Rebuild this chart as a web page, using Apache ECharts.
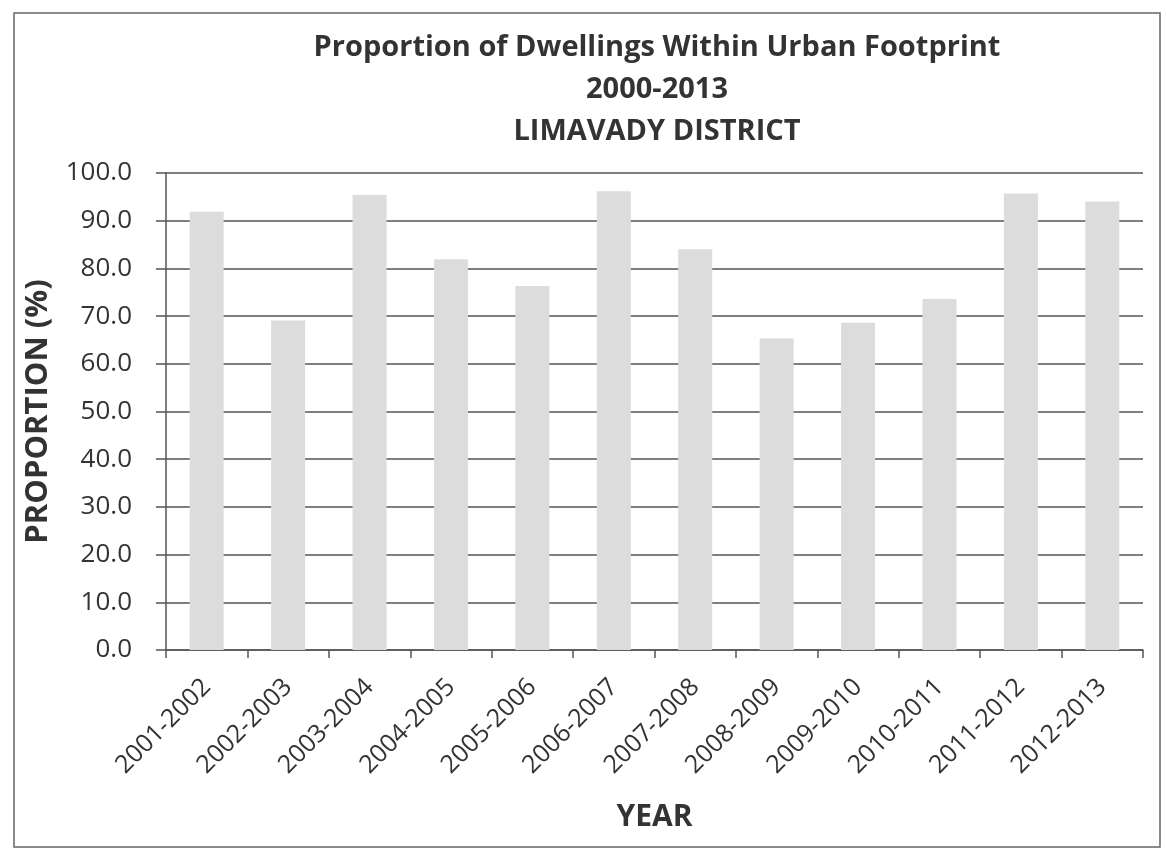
<!DOCTYPE html>
<html>
<head>
<meta charset="utf-8">
<script src="https://cdn.jsdelivr.net/npm/echarts@6/dist/echarts.min.js"></script>
<style>html,body{margin:0;padding:0;background:#fff;}#chart{width:1166px;height:849px;}</style>
</head>
<body>
<div id="chart"></div>
<script>
const categories = ['2001-2002','2002-2003','2003-2004','2004-2005','2005-2006','2006-2007','2007-2008','2008-2009','2009-2010','2010-2011','2011-2012','2012-2013'];
const proportion = [91.9, 69.1, 95.4, 81.9, 76.3, 96.2, 84.0, 65.3, 68.6, 73.6, 95.7, 94.0];
const titleLines = ['Proportion of Dwellings Within Urban Footprint', '2000-2013', 'LIMAVADY DISTRICT'];

const chart = echarts.init(document.getElementById('chart'));
const FONT = '"Open Sans", "Liberation Sans", sans-serif';
chart.setOption({
  backgroundColor: '#ffffff',
  animation: false,
  title: {
    text: titleLines.join('\n'),
    left: 652, top: 22, textAlign: 'center',
    textStyle: { fontFamily: FONT, fontWeight: 'bold', fontSize: 29, color: '#333', lineHeight: 42 }
  },
  graphic: [{
    type: 'rect', shape: { x: 14, y: 13, width: 1146, height: 834 },
    style: { fill: 'none', stroke: '#666', lineWidth: 1.5 }, silent: true
  }],
  grid: { left: 166, right: 23, top: 173, bottom: 199 },
  xAxis: {
    type: 'category', data: categories,
    name: 'YEAR', nameLocation: 'middle', nameGap: 152,
    nameTextStyle: { fontFamily: FONT, fontWeight: 'bold', fontSize: 30, color: '#333' },
    axisLine: { lineStyle: { color: '#555', width: 1.5 } },
    axisTick: { show: true, length: 8, lineStyle: { color: '#555', width: 1.5 } },
    axisLabel: { rotate: 45, fontFamily: FONT, fontSize: 25, color: '#333', margin: 33, interval: 0 }
  },
  yAxis: {
    type: 'value', min: 0, max: 100, interval: 10,
    name: 'PROPORTION (%)', nameLocation: 'middle', nameGap: 112,
    nameTextStyle: { fontFamily: FONT, fontWeight: 'bold', fontSize: 31, color: '#333' },
    axisLine: { show: true, lineStyle: { color: '#555', width: 1.5 } },
    axisTick: { show: true, length: 10, lineStyle: { color: '#555', width: 1.5 } },
    axisLabel: { fontFamily: FONT, fontSize: 26, color: '#333', margin: 34, formatter: v => v.toFixed(1) },
    splitLine: { lineStyle: { color: '#555', width: 1.5 } }
  },
  series: [{
    type: 'bar', data: proportion, barWidth: 34,
    itemStyle: { color: '#dcdcdc' }
  }]
});
</script>
</body>
</html>
